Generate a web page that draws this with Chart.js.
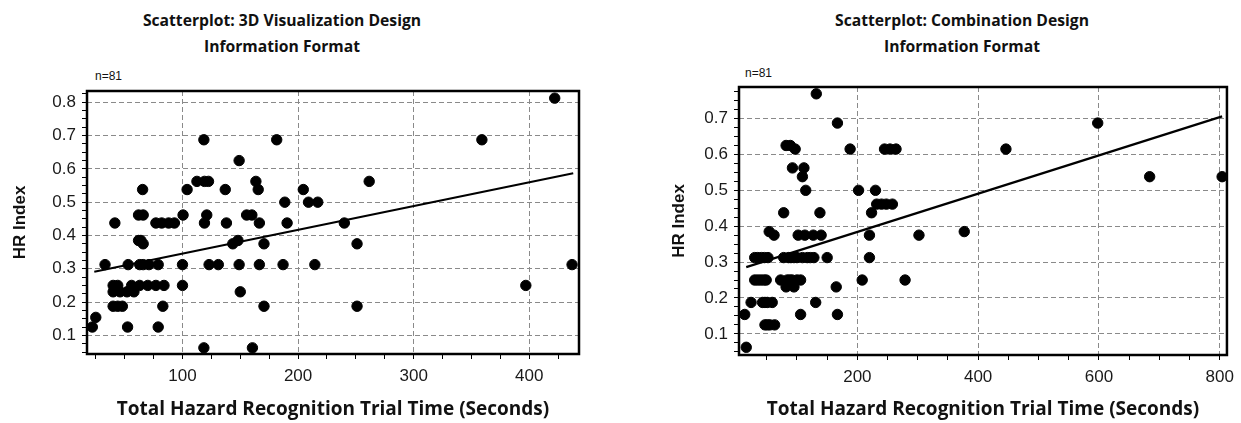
<!DOCTYPE html>
<html>
<head>
<meta charset="utf-8">
<script src="https://cdn.jsdelivr.net/npm/chart.js@4.4.1/dist/chart.umd.min.js"></script>
<style>
    body { margin: 0; background: #fff; width: 1241px; height: 423px; overflow: hidden; position: relative; }
    canvas { position: absolute; top: 0; }
    .title { position: absolute; width: 400px; text-align: center; font-family: "Open Sans", sans-serif; font-weight: bold; font-size: 15.7px; line-height: 26px; color: #111; }
    .nlabel { position: absolute; font-family: "Liberation Sans", Arial, sans-serif; font-size: 12px; color: #111; }
</style>
</head>
<body>
<div class="title" style="left: 82px; top: 7px;">Scatterplot: 3D Visualization Design<br>Information Format</div>
<div class="title" style="left: 762px; top: 7px;">Scatterplot: Combination Design<br>Information Format</div>
<div class="nlabel" style="left: 95px; top: 69px;">n=81</div>
<div class="nlabel" style="left: 745px; top: 66px;">n=81</div>
<canvas id="leftChart" width="620" height="423" style="left: 0px;"></canvas>
<canvas id="rightChart" width="621" height="423" style="left: 620px;"></canvas>
<script>
    // 3D Visualization design: trial time (s) and HR index
    const leftX = [118.5, 112.5, 119, 122.5, 104, 65.5, 62, 66, 100.5, 121,
        119, 41.5, 77, 82, 88, 93, 62, 64, 66,
        33, 53, 63, 66, 71, 79, 100, 123, 131,
        100, 40, 56, 63, 70, 77, 84, 40, 46, 52, 58, 44,
        40, 44, 48, 83, 25, 22, 52.5, 79, 118.5,
        181.5, 149, 137, 163.5, 165.5, 204.5, 188.5, 209, 217, 138,
        155.5, 160, 166.5, 190.5, 148, 143.5, 170.5, 149, 166.5, 187,
        214.5, 150, 170.5, 160.5,
        261.5, 240, 251, 251, 359, 422, 397, 437];
    const leftY = [0.6875, 0.5625, 0.5625, 0.5625, 0.538, 0.538, 0.4615, 0.4615, 0.4615, 0.4615,
        0.4375, 0.4375, 0.4375, 0.4375, 0.4375, 0.4375, 0.385, 0.385, 0.375,
        0.3125, 0.3125, 0.3125, 0.3125, 0.3125, 0.3125, 0.3125, 0.3125, 0.3125,
        0.25, 0.25, 0.25, 0.25, 0.25, 0.25, 0.25, 0.2308, 0.2308, 0.2308, 0.2308, 0.25,
        0.1875, 0.1875, 0.1875, 0.1875, 0.154, 0.125, 0.125, 0.125, 0.0625,
        0.6875, 0.625, 0.538, 0.5625, 0.538, 0.538, 0.5, 0.5, 0.5, 0.4375,
        0.4615, 0.4615, 0.4375, 0.4375, 0.385, 0.375, 0.375, 0.3125, 0.3125, 0.3125,
        0.3125, 0.2308, 0.1875, 0.0625,
        0.5625, 0.4375, 0.375, 0.1875, 0.6875, 0.8125, 0.25, 0.3125];
    const leftFitX = [23.7, 438];
    const leftFitY = [0.291, 0.587];

    // Combination design
    const rightX = [132, 167, 188, 82, 89, 97, 92.5, 111.5, 109, 114.5,
        202, 78, 138, 54, 62,
        102, 113, 127, 140,
        30, 35, 41, 46, 52, 78, 86, 90, 95, 100, 109, 117, 122, 128, 150,
        220,
        30, 35, 40, 45, 49, 73, 84, 88, 92, 100, 106,
        82, 95, 165, 208, 279,
        24, 43, 47, 51, 59, 131,
        13.5, 106, 167,
        47, 51, 55, 63,
        16, 220, 230, 223.5,
        232, 240, 248, 258,
        245, 254, 264,
        302, 377, 446, 598, 684, 804];
    const rightY = [0.769, 0.6875, 0.615, 0.625, 0.625, 0.615, 0.5625, 0.5625, 0.538, 0.5,
        0.5, 0.4375, 0.4375, 0.385, 0.375,
        0.375, 0.375, 0.375, 0.375,
        0.3125, 0.3125, 0.3125, 0.3125, 0.3125, 0.3125, 0.3125, 0.3125, 0.3125, 0.3125, 0.3125, 0.3125, 0.3125, 0.3125, 0.3125,
        0.3125,
        0.25, 0.25, 0.25, 0.25, 0.25, 0.25, 0.25, 0.25, 0.25, 0.25, 0.25,
        0.2308, 0.2308, 0.2308, 0.25, 0.25,
        0.1875, 0.1875, 0.1875, 0.1875, 0.1875, 0.1875,
        0.154, 0.154, 0.154,
        0.125, 0.125, 0.125, 0.125,
        0.0625, 0.375, 0.5, 0.4375,
        0.4615, 0.4615, 0.4615, 0.4615,
        0.615, 0.615, 0.615,
        0.375, 0.385, 0.615, 0.6875, 0.538, 0.538];
    const rightFitX = [16, 804];
    const rightFitY = [0.286, 0.706];

    // tick labels
    const leftXTicks = [100, 200, 300, 400];
    const rightXTicks = [200, 400, 600, 800];
    const leftYTicks = [0.1, 0.2, 0.3, 0.4, 0.5, 0.6, 0.7, 0.8];
    const rightYTicks = [0.1, 0.2, 0.3, 0.4, 0.5, 0.6, 0.7];

    const xTitle = 'Total Hazard Recognition Trial Time (Seconds)';
    const yTitle = 'HR Index';

    function toPoints(xs, ys) {
        return xs.map((x, i) => ({ x: x, y: ys[i] }));
    }

    function stepTicks(min, max, step) {
        const out = [];
        for (let k = Math.ceil(min / step - 1e-9); k * step <= max + 1e-9; k++) {
            out.push({ value: +(k * step).toFixed(4) });
        }
        return out;
    }

    function hasTick(list, v) {
        return list.some(t => Math.abs(t - v) < 1e-6);
    }

    const framePlugin = {
        id: 'frame',
        afterDatasetsDraw(chart) {
            const { ctx, chartArea: a } = chart;
            ctx.save();
            ctx.strokeStyle = '#000';
            ctx.lineWidth = 2.5;
            ctx.strokeRect(a.left, a.top, a.right - a.left, a.bottom - a.top);
            ctx.restore();
        }
    };

    function makeChart(id, opts) {
        const tickFont = { family: '"Liberation Sans", Arial, sans-serif', size: 17 };
        const xTitleFont = { family: '"Open Sans", sans-serif', size: 19, weight: 'bold' };
        const yTitleFont = { family: '"Liberation Sans", Arial, sans-serif', size: 17, weight: 'bold' };
        return new Chart(document.getElementById(id), {
            type: 'scatter',
            data: {
                datasets: [{
                    data: toPoints(opts.fitX, opts.fitY),
                    showLine: true,
                    borderColor: '#000',
                    borderWidth: 2.2,
                    pointRadius: 0,
                    order: 0
                }, {
                    data: toPoints(opts.x, opts.y),
                    backgroundColor: '#000',
                    borderColor: '#000',
                    pointRadius: 5.2,
                    order: 1
                }]
            },
            options: {
                responsive: false,
                animation: false,
                layout: { padding: opts.padding },
                plugins: { legend: { display: false }, tooltip: { enabled: false } },
                scales: {
                    x: {
                        type: 'linear',
                        min: opts.xMin,
                        max: opts.xMax,
                        afterBuildTicks: s => { s.ticks = stepTicks(opts.xMin, opts.xMax, opts.xMinor); },
                        afterFit: s => { s.height = opts.xHeight; },
                        border: { display: false, dash: [5, 3] },
                        grid: {
                            color: c => (c.tick && hasTick(opts.xTicks, c.tick.value)) ? '#8a8a8a' : 'rgba(0,0,0,0)',
                            tickColor: '#000',
                            tickLength: 5,
                            tickBorderDash: [],
                            lineWidth: 1
                        },
                        ticks: {
                            autoSkip: false,
                            maxRotation: 0,
                            padding: 7,
                            color: '#1a1a1a',
                            font: tickFont,
                            callback: v => hasTick(opts.xTicks, v) ? String(v) : ''
                        },
                        title: { display: true, text: xTitle, color: '#111', font: xTitleFont, padding: { top: 0, bottom: 2 } }
                    },
                    y: {
                        type: 'linear',
                        min: opts.yMin,
                        max: opts.yMax,
                        afterBuildTicks: s => { s.ticks = stepTicks(opts.yMin, opts.yMax, 0.025); },
                        afterFit: s => { s.width = opts.yWidth; },
                        border: { display: false, dash: [5, 3] },
                        grid: {
                            color: c => (c.tick && hasTick(opts.yTicks, c.tick.value)) ? '#8a8a8a' : 'rgba(0,0,0,0)',
                            tickColor: '#000',
                            tickLength: 5,
                            tickBorderDash: [],
                            lineWidth: 1
                        },
                        ticks: {
                            autoSkip: false,
                            padding: 6,
                            color: '#1a1a1a',
                            font: tickFont,
                            callback: v => hasTick(opts.yTicks, v) ? v.toFixed(1) : ''
                        },
                        title: { display: true, text: yTitle, color: '#111', font: yTitleFont, padding: { top: opts.yTitlePad, bottom: 0 } }
                    }
                }
            },
            plugins: [framePlugin]
        });
    }

    makeChart('leftChart', {
        x: leftX, y: leftY, fitX: leftFitX, fitY: leftFitY,
        xMin: 17.4, xMax: 443, xMinor: 25, xTicks: leftXTicks,
        yMin: 0.044, yMax: 0.834, yTicks: leftYTicks,
        padding: { left: 0, top: 91, right: 41, bottom: 0 },
        yWidth: 87, xHeight: 69, yTitlePad: 10
    });

    makeChart('rightChart', {
        x: rightX, y: rightY, fitX: rightFitX, fitY: rightFitY,
        xMin: 4, xMax: 812, xMinor: 50, xTicks: rightXTicks,
        yMin: 0.041, yMax: 0.788, yTicks: rightYTicks,
        padding: { left: 40, top: 87, right: 8, bottom: 0 },
        yWidth: 79, xHeight: 68, yTitlePad: 9
    });
</script>
</body>
</html>
